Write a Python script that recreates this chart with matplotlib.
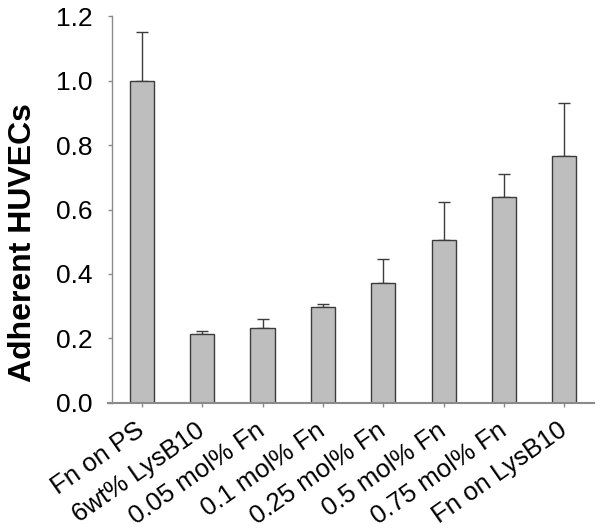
import matplotlib
matplotlib.use("Agg")

import matplotlib.pyplot as plt
import matplotlib.transforms as mtransforms
import numpy as np

plt.rcParams["font.family"] = ["Liberation Sans", "DejaVu Sans"]

categories = [
    "Fn on PS", "6wt% LysB10", "0.05 mol% Fn", "0.1 mol% Fn",
    "0.25 mol% Fn", "0.5 mol% Fn", "0.75 mol% Fn", "Fn on LysB10",
]
adherent = [1.0, 0.213, 0.232, 0.298, 0.371, 0.505, 0.640, 0.767]
err_upper = [0.15, 0.009, 0.029, 0.008, 0.074, 0.118, 0.070, 0.165]

BAR_COLOR = "#bebebe"
EDGE_COLOR = "#3c3c3c"
AXIS_COLOR = "#8a8a8a"

fig = plt.figure(figsize=(6.02, 5.32), dpi=100)
ax = fig.add_axes([0.1794, 0.243, 0.8073, 0.7263])

x = np.arange(len(categories))
yerr = [np.zeros(len(err_upper)), err_upper]
ax.bar(x, adherent, width=0.4, color=BAR_COLOR, edgecolor=EDGE_COLOR,
       linewidth=1.0, zorder=2)
ax.errorbar(x, adherent, yerr=yerr, fmt="none", ecolor=EDGE_COLOR,
            elinewidth=1.0, capsize=4, capthick=1.0, zorder=1)

ax.set_xlim(-0.56, 7.49)
ax.set_ylim(0, 1.2)
ax.set_yticks(np.arange(0, 1.21, 0.2))
ax.set_yticklabels([f"{v:.1f}" for v in np.arange(0, 1.21, 0.2)])

ax.spines["top"].set_visible(False)
ax.spines["right"].set_visible(False)
ax.spines["left"].set_position(("data", -0.497))
ax.spines["left"].set_color(AXIS_COLOR)
ax.spines["left"].set_linewidth(1.0)
ax.spines["bottom"].set_color(AXIS_COLOR)
ax.spines["bottom"].set_linewidth(1.5)

ax.tick_params(axis="y", direction="out", length=3, width=1.0,
               color=AXIS_COLOR, labelsize=19, pad=11)
ax.tick_params(axis="x", direction="out", length=3, width=1.0,
               color=AXIS_COLOR, labelsize=18.5, pad=8)

ax.set_xticks(x)
ax.set_xticklabels(categories, rotation=35, ha="right", va="top",
                   rotation_mode="anchor")
# nudge the rotated labels a little left, like the original figure
shift = mtransforms.ScaledTranslation(-5 / 72, 0, fig.dpi_scale_trans)
for lbl in ax.get_xticklabels():
    lbl.set_transform(lbl.get_transform() + shift)

ax.set_ylabel("Adherent HUVECs", fontsize=23, fontweight="bold")
ax.yaxis.set_label_coords(-0.144, 0.415)

fig.savefig("out.png", dpi=100)
